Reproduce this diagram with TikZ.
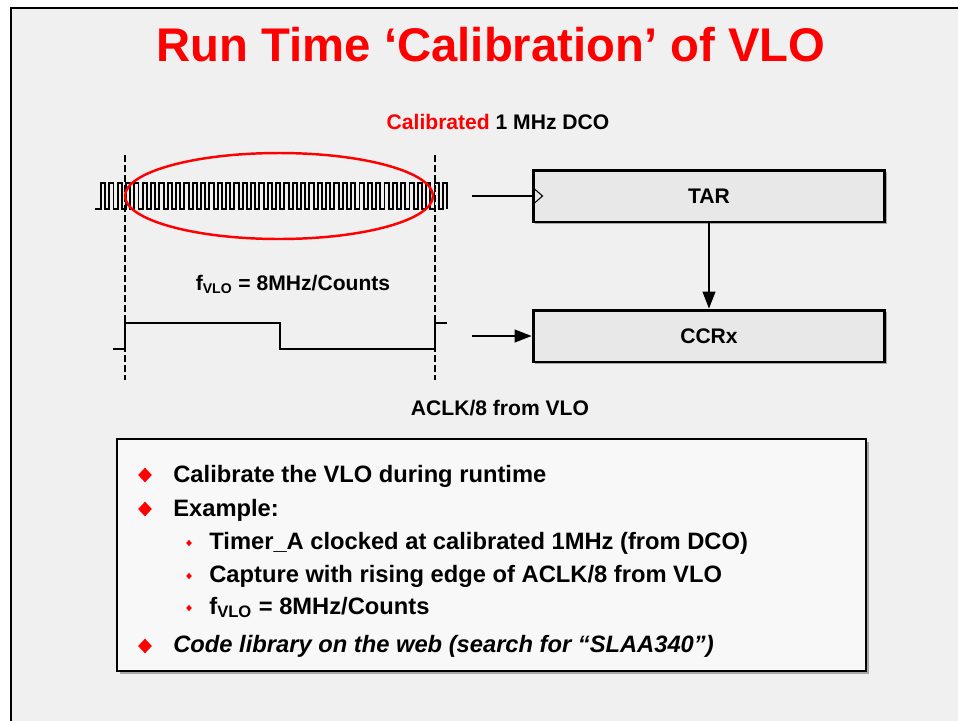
\documentclass[tikz,border=0pt]{standalone}
\usepackage{fontspec}
\setmainfont{Liberation Sans}
\usepackage{tikz}
\usetikzlibrary{shapes.geometric,arrows.meta,positioning,calc,shadows}
\usepackage{xcolor}
\definecolor{slidebg}{HTML}{F0F0F0}
\definecolor{regfill}{HTML}{E8E8E8}
\definecolor{notefill}{HTML}{F8F8F8}
\definecolor{tired}{HTML}{FF0000}

\begin{document}
\begin{tikzpicture}[
    x=0.02cm, y=-0.02cm,
    reg/.style={rectangle, draw, line width=1.7pt, fill=regfill, minimum width=7.04cm, minimum height=1.04cm,
        font=\fontsize{12}{14}\selectfont\bfseries, drop shadow={shadow xshift=0.04cm, shadow yshift=-0.04cm, fill=black!35, opacity=1}},
    label/.style={font=\fontsize{12}{14}\selectfont\bfseries, anchor=base, inner sep=0pt},
    item/.style={font=\fontsize{13.5}{16}\selectfont\bfseries, anchor=base west, inner sep=0pt},
    mdot/.style={diamond, fill=tired, inner sep=0pt, minimum width=0.28cm, minimum height=0.3cm},
    sdot/.style={diamond, fill=tired, inner sep=0pt, minimum width=0.12cm, minimum height=0.13cm},
    wave/.style={line width=1.1pt, line join=miter},
    edgeline/.style={line width=1.1pt, dash pattern=on 3.8pt off 1.9pt},
    arr/.style={line width=0.6pt, -{Triangle[length=0.34cm, width=0.26cm]}}
]
\useasboundingbox (0,0) rectangle (958,721);

% Slide
\fill[white] (0,0) rectangle (958,721);
\fill[slidebg] (11,8) rectangle (958,721);
\draw[line width=1.2pt] (11,721) -- (11,8) -- (958,8);
\node[font=\fontsize{26.9}{32}\selectfont\bfseries, text=tired, anchor=base, inner sep=0pt] (title) at (491,61)
    {Run Time ‘Calibration’ of VLO};

% Clocks
\node[label] (dco) at (498,129) {\textcolor{tired}{Calibrated} 1 MHz DCO};
\draw[edgeline] (125,155) -- (125,380);
\draw[edgeline] (435,155) -- (435,380);
\draw[wave] (95,209) -- (101,209)
    \foreach \k in {1,...,41} { -- ++(0,-26) -- ++(4.169,0) -- ++(0,26) -- ++(4.169,0) }
    -- ++(0,-26) -- ++(4.169,0) -- ++(0,26);
\draw[tired, line width=1.4pt] (279,196) ellipse [x radius=3.08cm, y radius=0.86cm];
\node[label] (fvlo) at (293,290) {f\textsubscript{VLO} = 8MHz/Counts};
\draw[wave] (113,349) -- (125,349) -- (125,323) -- (280,323) -- (280,349) -- (435,349) -- (435,323) -- (447,323);
\node[label] (aclk) at (500,415) {ACLK/8 from VLO};

% Registers
\node[reg] (tar) at (709,196) {TAR};
\node[reg] (ccr) at (709,336) {CCRx};
\coordinate (dcoin) at (472,196);
\coordinate (vloin) at (472,336);
\draw[line width=0.6pt] (dcoin) -- (tar.west);
\draw[line width=0.6pt] ($(tar.west)+(3,-7)$) -- ++(8,7) -- ++(-8,7);
\draw[arr] (tar.south) -- (ccr.north);
\draw[arr] (vloin) -- (ccr.west);

% Notes
\fill[black!35] (120,442) rectangle (869,674);
\node[rectangle, draw, line width=1.4pt, fill=notefill, minimum width=14.98cm, minimum height=4.64cm] (note) at (491.5,555) {};
\node[mdot] (d1) at (145,475) {};
\node[item] (b1) at (173,482) {Calibrate the VLO during runtime};
\node[mdot] (d2) at (145,509) {};
\node[item] (b2) at (173,516) {Example:};
\node[sdot] (d3) at (189,543) {};
\node[item] (b3) at (209,549) {Timer\_A clocked at calibrated 1MHz (from DCO)};
\node[sdot] (d4) at (189,576) {};
\node[item] (b4) at (209,582) {Capture with rising edge of ACLK/8 from VLO};
\node[sdot] (d5) at (189,608) {};
\node[item] (b5) at (209,614) {f\textsubscript{VLO} = 8MHz/Counts};
\node[mdot] (d6) at (145,646) {};
\node[item, font=\fontsize{13.5}{16}\selectfont\bfseries\itshape] (b6) at (173,652) {Code library on the web (search for “SLAA340”)};
\end{tikzpicture}
\end{document}
